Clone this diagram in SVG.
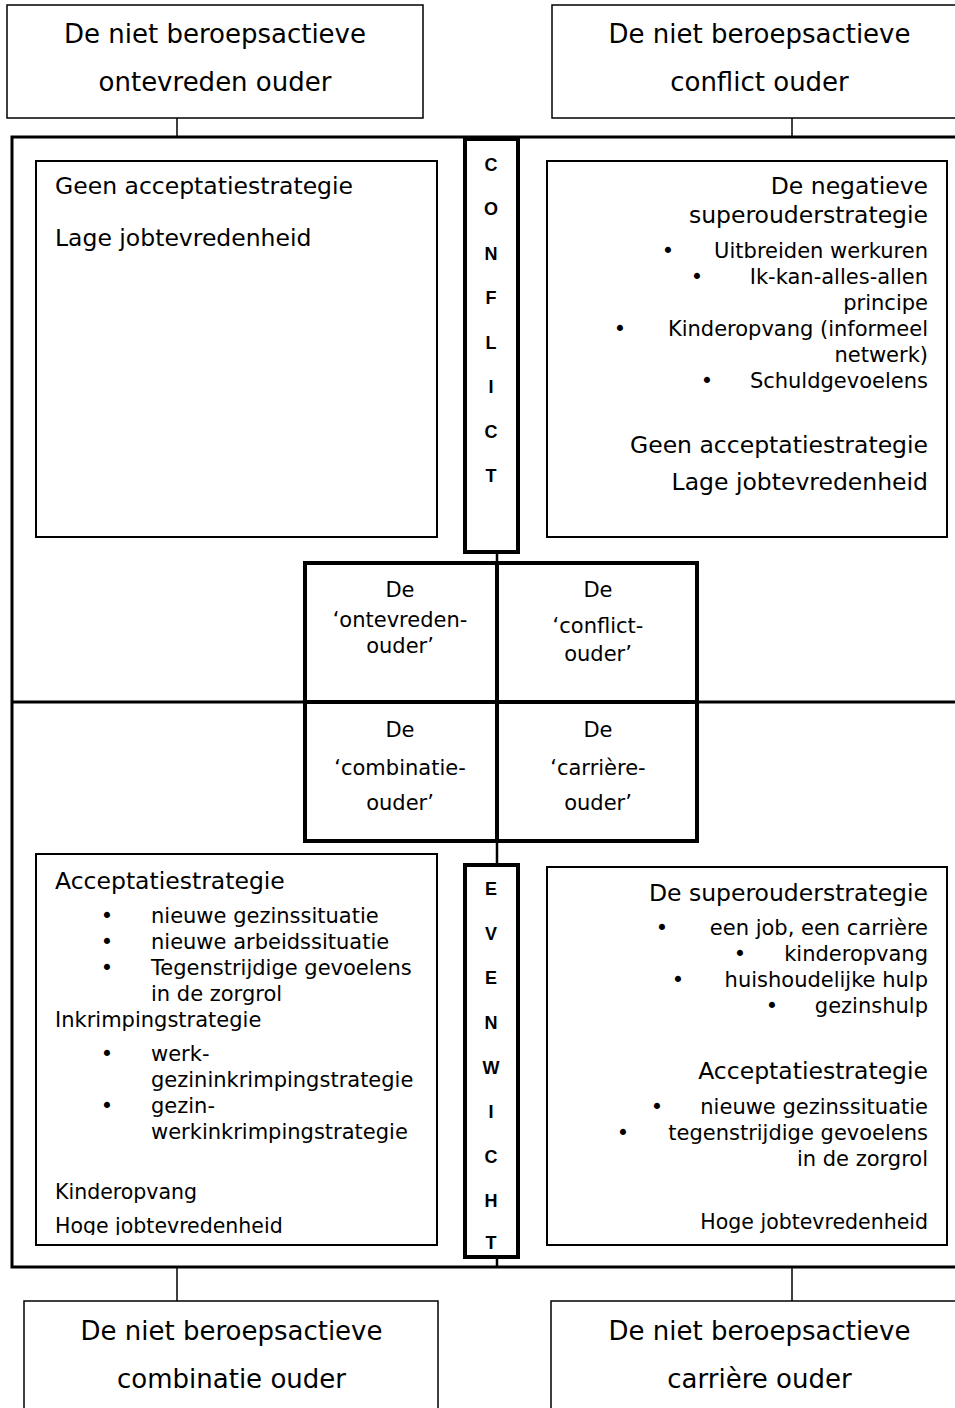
<svg xmlns="http://www.w3.org/2000/svg" width="955" height="1408" viewBox="0 0 955 1408">
<style>
.box{fill:#fff;stroke:#000;stroke-width:1.5}
.inner{fill:#fff;stroke:#000;stroke-width:2}
.frame{fill:none;stroke:#000;stroke-width:3}
.thick{fill:#fff;stroke:#000;stroke-width:4}
.line{stroke:#000;stroke-width:1.5;fill:none}
.mid{stroke:#000;stroke-width:3;fill:none}
.div{stroke:#000;stroke-width:4;fill:none}
text{font-family:"DejaVu Sans",Verdana,sans-serif;fill:#000}
.big{font-size:26px;text-anchor:middle}
.h{font-size:23.5px}
.s{font-size:21px}
.k{font-size:20.5px}
.q{font-size:21px;text-anchor:middle}
.v{font-family:"Liberation Sans",Arial,sans-serif;font-weight:bold;font-size:18px;text-anchor:middle}
.e{text-anchor:end}
.b{text-anchor:middle}
</style>
<defs>
<clipPath id="clipBL"><rect x="36" y="854" width="401" height="381"/></clipPath>
</defs>

<g id="frame">
<rect class="frame" x="12" y="137" width="970" height="1130"/>
<line class="mid" x1="12" y1="702" x2="955" y2="702"/>
</g>

<g id="connectors">
<line class="line" x1="177" y1="118" x2="177" y2="137"/>
<line class="line" x1="792" y1="118" x2="792" y2="137"/>
<line class="line" x1="177" y1="1267" x2="177" y2="1301"/>
<line class="line" x1="792" y1="1267" x2="792" y2="1301"/>
<line stroke="#000" stroke-width="2.5" x1="497" y1="552" x2="497" y2="865"/>
<line stroke="#000" stroke-width="2.5" x1="497" y1="1257" x2="497" y2="1267"/>
</g>

<g id="node-top-left">
<rect class="box" x="7" y="5" width="416" height="113"/>
<text class="big" x="215" y="43">De niet beroepsactieve</text>
<text class="big" x="215" y="91">ontevreden ouder</text>
</g>

<g id="node-top-right">
<rect class="box" x="552" y="5" width="415" height="113"/>
<text class="big" x="759.5" y="43">De niet beroepsactieve</text>
<text class="big" x="759.5" y="91">conflict ouder</text>
</g>

<g id="node-bottom-left">
<rect class="box" x="24" y="1301" width="414" height="130"/>
<text class="big" x="231.5" y="1340">De niet beroepsactieve</text>
<text class="big" x="231.5" y="1388">combinatie ouder</text>
</g>

<g id="node-bottom-right">
<rect class="box" x="551" y="1301" width="416" height="130"/>
<text class="big" x="759.5" y="1340">De niet beroepsactieve</text>
<text class="big" x="759.5" y="1388">carrière ouder</text>
</g>

<g id="ontevreden-strategies">
<rect class="inner" x="36" y="161" width="401" height="376"/>
<text class="h" x="55" y="194">Geen acceptatiestrategie</text>
<text class="h" x="55" y="246">Lage jobtevredenheid</text>
</g>

<g id="conflict-strategies">
<rect class="inner" x="547" y="161" width="400" height="376"/>
<text class="h e" x="928" y="194">De negatieve</text>
<text class="h e" x="928" y="223">superouderstrategie</text>
<text class="s b" x="668" y="258">•</text><text class="s e" x="928" y="258">Uitbreiden werkuren</text>
<text class="s b" x="697" y="284">•</text><text class="s e" x="928" y="284">Ik-kan-alles-allen</text>
<text class="s e" x="928" y="310">principe</text>
<text class="s b" x="620" y="336">•</text><text class="s e" x="928" y="336">Kinderopvang (informeel</text>
<text class="s e" x="928" y="362">netwerk)</text>
<text class="s b" x="707" y="388">•</text><text class="s e" x="928" y="388">Schuldgevoelens</text>
<text class="h e" x="928" y="453">Geen acceptatiestrategie</text>
<text class="h e" x="928" y="490">Lage jobtevredenheid</text>
</g>

<g id="conflict-bar">
<rect class="thick" x="465" y="139" width="53" height="413"/>
<text class="v" x="491" y="171">C</text>
<text class="v" x="491" y="215">O</text>
<text class="v" x="491" y="260">N</text>
<text class="v" x="491" y="304">F</text>
<text class="v" x="491" y="349">L</text>
<text class="v" x="491" y="393">I</text>
<text class="v" x="491" y="438">C</text>
<text class="v" x="491" y="482">T</text>
</g>

<g id="quadrant">
<rect class="thick" x="305" y="563" width="392" height="278"/>
<line class="div" x1="305" y1="702" x2="697" y2="702"/>
<line class="div" x1="497" y1="563" x2="497" y2="841"/>
<g id="q-ontevreden">
<text class="q" x="400" y="597">De</text>
<text class="q" x="400" y="627">‘ontevreden-</text>
<text class="q" x="400" y="653">ouder’</text>
</g>
<g id="q-conflict">
<text class="q" x="598" y="597">De</text>
<text class="q" x="598" y="633">‘conflict-</text>
<text class="q" x="598" y="661">ouder’</text>
</g>
<g id="q-combinatie">
<text class="q" x="400" y="737">De</text>
<text class="q" x="400" y="775">‘combinatie-</text>
<text class="q" x="400" y="810">ouder’</text>
</g>
<g id="q-carriere">
<text class="q" x="598" y="737">De</text>
<text class="q" x="598" y="775">‘carrière-</text>
<text class="q" x="598" y="810">ouder’</text>
</g>
</g>

<g id="evenwicht-bar">
<rect class="thick" x="465" y="865" width="53" height="392"/>
<text class="v" x="491" y="895">E</text>
<text class="v" x="491" y="940">V</text>
<text class="v" x="491" y="984">E</text>
<text class="v" x="491" y="1029">N</text>
<text class="v" x="491" y="1074">W</text>
<text class="v" x="491" y="1118">I</text>
<text class="v" x="491" y="1163">C</text>
<text class="v" x="491" y="1207">H</text>
<text class="v" x="491" y="1249">T</text>
</g>

<g id="combinatie-strategies">
<rect class="inner" x="36" y="854" width="401" height="391"/>
<g clip-path="url(#clipBL)">
<text class="h" x="55" y="889">Acceptatiestrategie</text>
<text class="s b" x="107" y="923">•</text><text class="s" x="151" y="923">nieuwe gezinssituatie</text>
<text class="s b" x="107" y="949">•</text><text class="s" x="151" y="949">nieuwe arbeidssituatie</text>
<text class="s b" x="107" y="975">•</text><text class="s" x="151" y="975">Tegenstrijdige gevoelens</text>
<text class="s" x="151" y="1001">in de zorgrol</text>
<text class="s" x="55" y="1027">Inkrimpingstrategie</text>
<text class="s b" x="107" y="1061">•</text><text class="s" x="151" y="1061">werk-</text>
<text class="s" x="151" y="1087">gezininkrimpingstrategie</text>
<text class="s b" x="107" y="1113">•</text><text class="s" x="151" y="1113">gezin-</text>
<text class="s" x="151" y="1139">werkinkrimpingstrategie</text>
<text class="k" x="55" y="1199">Kinderopvang</text>
<text class="k" x="55" y="1233">Hoge jobtevredenheid</text>
</g>
</g>

<g id="carriere-strategies">
<rect class="inner" x="547" y="867" width="400" height="378"/>
<text class="h e" x="928" y="901">De superouderstrategie</text>
<text class="s b" x="662" y="935">•</text><text class="s e" x="928" y="935">een job, een carrière</text>
<text class="s b" x="740" y="961">•</text><text class="s e" x="928" y="961">kinderopvang</text>
<text class="s b" x="678" y="987">•</text><text class="s e" x="928" y="987">huishoudelijke hulp</text>
<text class="s b" x="772" y="1013">•</text><text class="s e" x="928" y="1013">gezinshulp</text>
<text class="h e" x="928" y="1079">Acceptatiestrategie</text>
<text class="s b" x="657" y="1114">•</text><text class="s e" x="928" y="1114">nieuwe gezinssituatie</text>
<text class="s b" x="623" y="1140">•</text><text class="s e" x="928" y="1140">tegenstrijdige gevoelens</text>
<text class="s e" x="928" y="1166">in de zorgrol</text>
<text class="k e" x="928" y="1229">Hoge jobtevredenheid</text>
</g>
</svg>
